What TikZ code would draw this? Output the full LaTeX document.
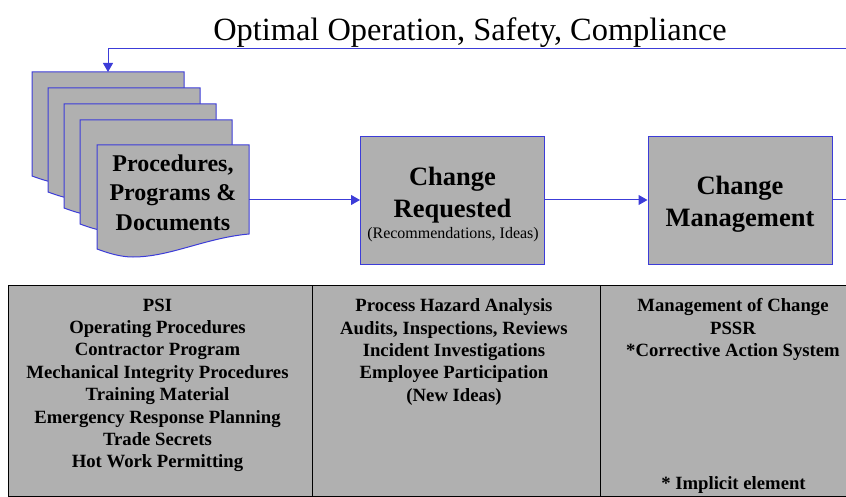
\documentclass[tikz,border=0pt]{standalone}
\usepackage{fontspec}
\setmainfont{Liberation Serif}
\usetikzlibrary{arrows.meta}
\definecolor{boxblue}{HTML}{3C3CD8}
\definecolor{boxgray}{HTML}{B0B0B0}
\tikzset{
  x=1pt,y=-1pt,
  flow/.style={draw=boxblue,line width=1pt},
  flowarrow/.style={flow,-{Triangle[length=9pt,width=10pt,fill=boxblue]}},
  procbox/.style={draw=boxblue,fill=boxgray,line width=1pt,minimum width=184pt,minimum height=127pt,inner sep=0pt},
  boxlabel/.style={align=center,font=\bfseries\fontsize{26.5}{32}\selectfont},
  docpage/.style={draw=boxblue,fill=boxgray,line width=1pt},
  cell/.style={draw=black,fill=boxgray,line width=0.8pt},
  celltext/.style={anchor=north,align=center,font=\bfseries\fontsize{18.7}{22.4}\selectfont,inner sep=0pt},
}
\newcommand{\docshape}[2]{%
  \draw[docpage,shift={(#1,#2)}] (0,0) -- (152,0) -- (152,89) .. controls (108,93) and (73,112) .. (36,112) .. controls (23,112) and (11,108) .. (0,104) -- cycle;}
\begin{document}
\begin{tikzpicture}
\useasboundingbox (0,0) rectangle (846,497);
\docshape{32}{72}
\docshape{48}{88}
\docshape{64}{104}
\docshape{80}{120}
\docshape{97}{145}
\node[font=\bfseries\fontsize{24}{29.5}\selectfont,align=center] (docs) at (173,192.5) {Procedures,\\Programs \&\\Documents};
\coordinate (docsout) at (249,200);
\coordinate (docsin) at (108,72);
\coordinate (rightend) at (846,200);
\coordinate (topright) at (846,48.5);
\node[procbox] (req) at (452.5,200.5) {};
\node[boxlabel] (reqlabel) at (452.5,195.5) {Change\\Requested};
\node[font=\fontsize{16}{18}\selectfont] (reqnote) at (453,235) {(Recommendations, Ideas)};
\node[procbox] (mgmt) at (740,200.5) {};
\node[boxlabel] (mgmtlabel) at (740,204.5) {Change\\Management};
\node[font=\fontsize{32.4}{36}\selectfont] (title) at (470,33) {Optimal Operation, Safety, Compliance};
\draw[flowarrow] (docsout) -- (req.west |- docsout);
\draw[flowarrow] (req.east |- docsout) -- (mgmt.west |- docsout);
\draw[flow] (mgmt.east |- rightend) -- (rightend);
\draw[flowarrow] (topright) -- (108,48.5) -- (docsin);
\draw[cell] (8,285) rectangle (312,496.5);
\draw[cell] (312,285) rectangle (600,496.5);
\draw[cell] (600,285) rectangle (850,496.5);
\node[celltext] (c1) at (157.5,298.5) {PSI\\Operating Procedures\\Contractor Program\\Mechanical Integrity Procedures\\Training Material\\Emergency Response Planning\\Trade Secrets\\Hot Work Permitting};
\node[celltext] (c2) at (454,298.5) {Process Hazard Analysis\\Audits, Inspections, Reviews\\Incident Investigations\\Employee Participation\\(New Ideas)};
\node[celltext] (c3) at (733,298.5) {Management of Change\\PSSR\\*Corrective Action System};
\node[celltext] (c4) at (733.5,476.5) {* Implicit element};
\end{tikzpicture}
\end{document}
